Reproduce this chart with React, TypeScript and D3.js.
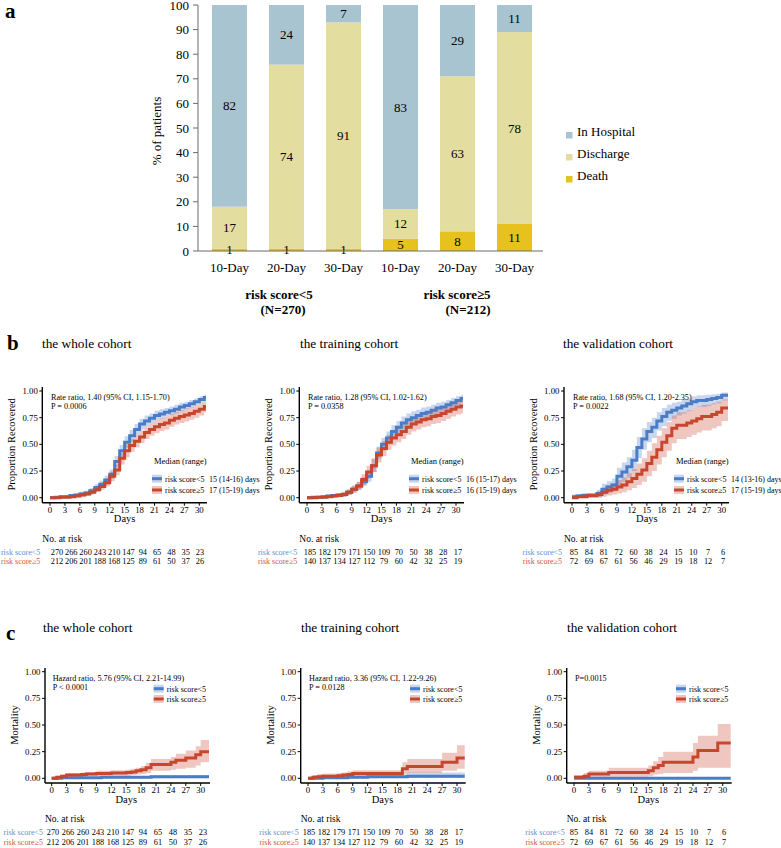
import React from 'react';
import * as d3 from 'd3';

const FONT = 'Liberation Serif, Times New Roman, Times, serif';

// ---------------- Panel a data ----------------
const timeLabels = ['10-Day', '20-Day', '30-Day', '10-Day', '20-Day', '30-Day'];
const deathPct = [1, 1, 1, 5, 8, 11];
const dischargePct = [17, 74, 91, 12, 63, 78];
const hospitalPct = [82, 24, 7, 83, 29, 11];
const outcomeKeys = ['death', 'discharge', 'hospital'];
const legendKeys = ['hospital', 'discharge', 'death'];
const legendLabels = ['In Hospital', 'Discharge', 'Death'];
const groupLabels = ['risk score<5', 'risk score≥5'];
const groupNs = ['(N=270)', '(N=212)'];
const pctTicks = [0, 10, 20, 30, 40, 50, 60, 70, 80, 90, 100];

// ---------------- KM data ----------------
const DAYS = [0, 1, 2, 3, 4, 5, 6, 7, 8, 9, 10, 11, 12, 13, 14, 15, 16, 17, 18, 19, 20, 21, 22, 23, 24, 25, 26, 27, 28, 29, 30, 31];
const dayTicks = [0, 3, 6, 9, 12, 15, 18, 21, 24, 27, 30];
const propTicks = [0, 0.25, 0.5, 0.75, 1];
const riskDays = [0, 3, 6, 9, 12, 15, 18, 21, 24, 27, 30];

// Recovery - whole cohort
const recWholeLowEst = [0, .005, .01, .01, .02, .025, .035, .045, .065, .095, .125, .165, .22, .34, .44, .52, .58, .64, .69, .72, .745, .77, .785, .80, .815, .83, .85, .865, .88, .90, .92, .94];
const recWholeLowLo = [0, 0, 0, 0, .005, .01, .015, .025, .04, .065, .09, .125, .175, .29, .385, .465, .525, .59, .64, .67, .70, .725, .74, .76, .775, .79, .81, .83, .845, .87, .89, .915];
const recWholeLowHi = [0, .01, .02, .02, .035, .04, .055, .065, .09, .125, .16, .205, .265, .39, .495, .575, .635, .69, .74, .77, .79, .815, .83, .84, .855, .87, .89, .90, .915, .93, .95, .965];
const recWholeHighEst = [0, 0, .005, .005, .01, .015, .025, .035, .05, .075, .105, .14, .20, .26, .37, .44, .49, .53, .57, .61, .64, .665, .685, .70, .725, .745, .76, .775, .79, .81, .83, .855];
const recWholeHighLo = [0, 0, 0, 0, 0, .005, .01, .015, .03, .05, .075, .105, .155, .21, .31, .38, .43, .47, .51, .55, .58, .605, .625, .64, .665, .685, .70, .715, .73, .75, .77, .80];
const recWholeHighHi = [0, .005, .01, .015, .02, .03, .04, .055, .075, .10, .14, .18, .245, .31, .42, .50, .55, .59, .63, .67, .70, .725, .745, .76, .785, .80, .82, .835, .85, .87, .89, .905];

// Recovery - training cohort
const recTrainLowEst = [0, .005, .005, .01, .015, .02, .025, .03, .05, .08, .11, .15, .20, .30, .42, .50, .56, .62, .66, .70, .73, .75, .77, .79, .80, .82, .84, .85, .87, .89, .91, .93];
const recTrainLowLo = [0, 0, 0, 0, 0, .005, .01, .01, .025, .05, .075, .11, .15, .24, .36, .44, .50, .56, .60, .64, .67, .69, .71, .735, .745, .765, .785, .80, .82, .84, .865, .89];
const recTrainLowHi = [0, .01, .015, .02, .03, .035, .045, .05, .075, .11, .145, .195, .25, .36, .48, .56, .62, .68, .72, .76, .79, .81, .825, .845, .855, .87, .89, .90, .915, .935, .95, .965];
const recTrainHighEst = [0, 0, .005, .005, .01, .015, .02, .03, .05, .08, .11, .17, .24, .30, .40, .46, .52, .56, .59, .62, .66, .69, .71, .73, .74, .76, .77, .79, .81, .83, .85, .86];
const recTrainHighLo = [0, 0, 0, 0, 0, 0, .005, .01, .025, .045, .075, .12, .18, .24, .33, .39, .45, .49, .52, .55, .59, .62, .64, .66, .67, .69, .70, .72, .74, .76, .78, .79];
const recTrainHighHi = [0, .005, .015, .015, .025, .03, .04, .055, .08, .115, .15, .22, .30, .37, .47, .53, .59, .63, .66, .69, .73, .755, .775, .795, .805, .825, .835, .855, .87, .89, .905, .915];

// Recovery - validation cohort
const recValLowEst = [.01, .015, .02, .02, .02, .04, .08, .10, .12, .20, .24, .29, .35, .47, .55, .62, .66, .72, .76, .80, .82, .84, .86, .88, .90, .91, .91, .92, .93, .94, .96, .96];
const recValLowLo = [0, 0, 0, 0, 0, .005, .03, .045, .06, .11, .15, .19, .25, .37, .45, .52, .56, .63, .67, .72, .74, .77, .79, .81, .84, .85, .85, .86, .875, .885, .91, .91];
const recValLowHi = [.03, .035, .045, .045, .045, .075, .13, .155, .18, .28, .33, .38, .45, .57, .65, .71, .75, .80, .84, .87, .89, .90, .92, .93, .95, .96, .96, .965, .97, .975, .985, .985];
const recValHighEst = [0, .01, .01, .02, .02, .03, .05, .07, .08, .10, .12, .15, .18, .22, .26, .32, .38, .45, .52, .58, .65, .68, .68, .70, .72, .74, .76, .76, .78, .80, .84, .84];
const recValHighLo = [0, 0, 0, 0, 0, 0, .01, .02, .03, .04, .05, .07, .09, .12, .15, .20, .25, .31, .38, .44, .51, .55, .55, .57, .59, .61, .63, .63, .65, .67, .72, .72];
const recValHighHi = [.01, .03, .03, .045, .045, .06, .09, .12, .135, .165, .19, .23, .27, .32, .37, .44, .51, .58, .65, .71, .77, .80, .80, .82, .84, .855, .87, .87, .885, .90, .92, .92];

// Mortality - whole cohort
const morWholeLowT = [0, 2, 10, 20];
const morWholeLowEst = [0, .005, .01, .015];
const morWholeLowLo = [0, 0, 0, 0];
const morWholeLowHi = [0, .015, .02, .03];
const morWholeHighT = [0, 1, 2, 3, 6, 7, 9, 12, 15, 16, 17, 18, 19, 20, 24, 25, 27, 29, 30];
const morWholeHighEst = [0, .01, .02, .03, .035, .04, .045, .05, .055, .06, .07, .08, .10, .13, .15, .17, .19, .22, .25];
const morWholeHighLo = [0, 0, .005, .01, .015, .02, .02, .025, .025, .03, .035, .04, .05, .07, .08, .09, .10, .12, .15];
const morWholeHighHi = [0, .025, .035, .05, .055, .06, .07, .075, .08, .09, .10, .115, .145, .18, .20, .23, .26, .30, .36];

// Mortality - training cohort
const morTrainLowT = [0, 3, 8, 12, 20];
const morTrainLowEst = [0, .005, .01, .015, .02];
const morTrainLowLo = [0, 0, 0, 0, .005];
const morTrainLowHi = [0, .015, .025, .035, .055];
const morTrainHighT = [0, 1, 2, 3, 6, 7, 8, 9, 19, 20, 27, 30];
const morTrainHighEst = [0, .01, .015, .02, .025, .03, .035, .045, .09, .11, .15, .19];
const morTrainHighLo = [0, 0, 0, .005, .01, .01, .015, .02, .04, .05, .07, .09];
const morTrainHighHi = [0, .03, .04, .045, .05, .055, .065, .075, .15, .18, .24, .31];

// Mortality - validation cohort
const morValLowT = [0];
const morValLowEst = [0];
const morValLowLo = [0];
const morValLowHi = [0.005];
const morValHighT = [0, 2, 3, 7, 15, 16, 17, 18, 24, 25, 29];
const morValHighEst = [.01, .02, .04, .055, .07, .10, .12, .15, .20, .26, .33];
const morValHighLo = [0, 0, .01, .015, .02, .035, .04, .05, .07, .10, .10];
const morValHighHi = [.03, .05, .07, .10, .12, .16, .20, .25, .33, .40, .51];

// Numbers at risk
const riskWholeLow = [270, 266, 260, 243, 210, 147, 94, 65, 48, 35, 23];
const riskWholeHigh = [212, 206, 201, 188, 168, 125, 89, 61, 50, 37, 26];
const riskTrainLow = [185, 182, 179, 171, 150, 109, 70, 50, 38, 28, 17];
const riskTrainHigh = [140, 137, 134, 127, 112, 79, 60, 42, 32, 25, 19];
const riskValLow = [85, 84, 81, 72, 60, 38, 24, 15, 10, 7, 6];
const riskValHigh = [72, 69, 67, 61, 56, 46, 29, 19, 18, 12, 7];

const recMedians = [
  ['15 (14-16) days', '17 (15-19) days'],
  ['16 (15-17) days', '16 (15-19) days'],
  ['14 (13-16) days', '17 (15-19) days'],
];
const recAnnots = [
  ['Rate ratio, 1.40 (95% CI, 1.15-1.70)', 'P = 0.0006'],
  ['Rate ratio, 1.28 (95% CI, 1.02-1.62)', 'P = 0.0358'],
  ['Rate ratio, 1.68 (95% CI, 1.20-2.35)', 'P = 0.0022'],
];
const morAnnots = [
  ['Hazard ratio, 5.76 (95% CI, 2.21-14.99)', 'P < 0.0001'],
  ['Hazard ratio, 3.36 (95% CI, 1.22-9.26)', 'P = 0.0128'],
  ['P=0.0015'],
];
const cohortTitles = ['the whole cohort', 'the training cohort', 'the validation cohort'];

// ---------------- styles ----------------
const BLUE = '#4a7cc8';
const RED = '#c9462e';
const BLUE_TXT = '#5b8fd8';
const RED_TXT = '#d2533c';
const BAND_OPACITY = 0.3;
const OUTCOME_COLORS: Record<string, string> = {
  hospital: '#a9c4d1',
  discharge: '#e4dda0',
  death: '#e7c11e',
};

type Curve = { t: number[]; est: number[]; lo: number[]; hi: number[] };
const mk = (t: number[], est: number[], lo: number[], hi: number[]): Curve => ({ t, est, lo, hi });

const recCurves: Curve[][] = [
  [mk(DAYS, recWholeLowEst, recWholeLowLo, recWholeLowHi), mk(DAYS, recWholeHighEst, recWholeHighLo, recWholeHighHi)],
  [mk(DAYS, recTrainLowEst, recTrainLowLo, recTrainLowHi), mk(DAYS, recTrainHighEst, recTrainHighLo, recTrainHighHi)],
  [mk(DAYS, recValLowEst, recValLowLo, recValLowHi), mk(DAYS, recValHighEst, recValHighLo, recValHighHi)],
];
const morCurves: Curve[][] = [
  [mk(morWholeLowT, morWholeLowEst, morWholeLowLo, morWholeLowHi), mk(morWholeHighT, morWholeHighEst, morWholeHighLo, morWholeHighHi)],
  [mk(morTrainLowT, morTrainLowEst, morTrainLowLo, morTrainLowHi), mk(morTrainHighT, morTrainHighEst, morTrainHighLo, morTrainHighHi)],
  [mk(morValLowT, morValLowEst, morValLowLo, morValLowHi), mk(morValHighT, morValHighEst, morValHighLo, morValHighHi)],
];
const risks = [
  [riskWholeLow, riskWholeHigh],
  [riskTrainLow, riskTrainHigh],
  [riskValLow, riskValHigh],
];

// layout
const bLayout = [
  { axisX: 42.3, day0X: 50, day30X: 199.3, axisEndX: 207, titleX: 42, riskX0: 57, riskX1: 200 },
  { axisX: 299.3, day0X: 307, day30X: 456, axisEndX: 464, titleX: 300, riskX0: 310, riskX1: 458 },
  { axisX: 564, day0X: 572, day30X: 721.7, axisEndX: 729, titleX: 563, riskX0: 574, riskX1: 723 },
];
const cLayout = [
  { axisX: 45, day0X: 51.7, day30X: 200.7, axisEndX: 210, titleX: 43, riskX0: 53, riskX1: 203 },
  { axisX: 300.7, day0X: 308, day30X: 457, axisEndX: 465.7, titleX: 301, riskX0: 309, riskX1: 459 },
  { axisX: 566.7, day0X: 574, day30X: 722.7, axisEndX: 731.7, titleX: 567, riskX0: 574, riskX1: 724 },
];
const bV = { yTop: 387, axisY: 502.7, y0: 497.7, y1: 391, titleY: 348 };
const cV = { yTop: 668, axisY: 783, y0: 778.3, y1: 671.7, titleY: 632 };

const fs = (size: number, extra: any = {}) => ({ fontFamily: FONT, fontSize: size + 'px', ...extra });

function BarPanel() {
  const x = d3.scaleBand<number>().domain(d3.range(timeLabels.length)).range([198, 546]).paddingInner(0.386).paddingOuter(0.245);
  const y = d3.scaleLinear().domain([0, 1]).range([251, 5]);
  const yPct = d3.scaleLinear().domain([0, 100]).range([251, 5]);
  const rows = timeLabels.map((_, i) => ({ death: deathPct[i], discharge: dischargePct[i], hospital: hospitalPct[i] }));
  const stack = d3.stack<any>().keys(outcomeKeys).offset(d3.stackOffsetExpand)(rows);
  return (
    <g>
      <text x={5} y={18} style={fs(21, { fontWeight: 'bold' })}>a</text>
      {stack.map((layer) => (
        <g key={layer.key}>
          {layer.map((seg, i) => (
            <rect key={i} x={x(i)} y={y(seg[1])} width={x.bandwidth()} height={y(seg[0]) - y(seg[1])} fill={OUTCOME_COLORS[layer.key]} />
          ))}
        </g>
      ))}
      {stack.map((layer) => (
        <g key={'l' + layer.key}>
          {layer.map((seg, i) => (
            <text key={i} x={(x(i) as number) + x.bandwidth() / 2} y={y((seg[0] + seg[1]) / 2) + 4.5} style={fs(13)} textAnchor="middle">
              {(rows[i] as any)[layer.key]}
            </text>
          ))}
        </g>
      ))}
      <line x1={198} x2={198} y1={5} y2={251} stroke="#6b6b6b" strokeWidth={1} />
      <line x1={198} x2={543} y1={251} y2={251} stroke="#6b6b6b" strokeWidth={1} />
      {pctTicks.map((t) => (
        <g key={t}>
          <line x1={193} x2={198} y1={yPct(t)} y2={yPct(t)} stroke="#6b6b6b" />
          <text x={189} y={yPct(t) + 4.5} style={fs(13)} textAnchor="end">{t}</text>
        </g>
      ))}
      {timeLabels.map((l, i) => (
        <text key={i} x={(x(i) as number) + x.bandwidth() / 2} y={272} style={fs(13)} textAnchor="middle">{l}</text>
      ))}
      <text transform="translate(161,131) rotate(-90)" style={fs(13)} textAnchor="middle">% of patients</text>
      <text x={279} y={299} style={fs(13, { fontWeight: 'bold' })} textAnchor="middle">{groupLabels[0]}</text>
      <text x={283} y={314} style={fs(13, { fontWeight: 'bold' })} textAnchor="middle">{groupNs[0]}</text>
      <text x={457} y={299} style={fs(13, { fontWeight: 'bold' })} textAnchor="middle">{groupLabels[1]}</text>
      <text x={468} y={314} style={fs(13, { fontWeight: 'bold' })} textAnchor="middle">{groupNs[1]}</text>
      {legendKeys.map((k, i) => (
        <g key={k}>
          <rect x={566} y={132 + i * 22} width={6.5} height={6.5} fill={OUTCOME_COLORS[k]} />
          <text x={577} y={136 + i * 22} style={fs(13)}>{legendLabels[i]}</text>
        </g>
      ))}
    </g>
  );
}

function KMPlot(props: {
  L: any; V: any; curves: Curve[]; title: string; yLabel: string; annot: string[];
  kind: 'rec' | 'mort'; medians?: string[]; risk: number[][];
}) {
  const { L, V, curves, title, yLabel, annot, kind, medians, risk } = props;
  const x = d3.scaleLinear().domain([0, 30]).range([L.day0X, L.day30X]);
  const y = d3.scaleLinear().domain([0, 1]).range([V.y0, V.y1]);
  const endDay = x.invert(L.axisEndX - 1);
  const colors = [BLUE, RED];
  const txtColors = [BLUE_TXT, RED_TXT];
  const pts = (c: Curve) => {
    const p = c.t.map((t, i) => ({ t, est: c.est[i], lo: c.lo[i], hi: c.hi[i] }));
    const last = p[p.length - 1];
    p.push({ ...last, t: endDay });
    return p;
  };
  const line = d3.line<any>().x((d) => x(d.t)).y((d) => y(d.est)).curve(d3.curveStepAfter);
  const area = d3.area<any>().x((d) => x(d.t)).y0((d) => y(d.lo)).y1((d) => y(d.hi)).curve(d3.curveStepAfter);
  const riskX = d3.scaleLinear().domain([0, 30]).range([L.riskX0, L.riskX1]);
  const keyX = L.day0X + 102;
  const keyYs = kind === 'rec' ? [V.y1 + 87.7, V.y1 + 99] : [V.y1 + 17, V.y1 + 27.3];
  const labels = ['risk score<5', 'risk score≥5'];
  return (
    <g>
      <text x={L.titleX} y={V.titleY} style={fs(13.3)}>{title}</text>
      {curves.map((c, i) => (
        <path key={'a' + i} d={area(pts(c)) || ''} fill={colors[i]} fillOpacity={BAND_OPACITY} stroke="none" />
      ))}
      {curves.map((c, i) => (
        <path key={'l' + i} d={line(pts(c)) || ''} fill="none" stroke={colors[i]} strokeWidth={3} />
      ))}
      <line x1={L.axisX} x2={L.axisX} y1={V.yTop} y2={V.axisY} stroke="#000" strokeWidth={1.4} />
      <line x1={L.axisX} x2={L.axisEndX} y1={V.axisY} y2={V.axisY} stroke="#000" strokeWidth={1.4} />
      {propTicks.map((t) => (
        <g key={t}>
          <line x1={L.axisX - 3} x2={L.axisX} y1={y(t)} y2={y(t)} stroke="#000" strokeWidth={1} />
          <text x={L.axisX - 4.5} y={y(t) + 3} style={fs(8.8)} textAnchor="end">{t.toFixed(2)}</text>
        </g>
      ))}
      {dayTicks.map((t) => (
        <g key={t}>
          <line x1={x(t)} x2={x(t)} y1={V.axisY} y2={V.axisY + 3} stroke="#000" strokeWidth={1} />
          <text x={x(t)} y={V.axisY + 10} style={fs(8.8)} textAnchor="middle">{t}</text>
        </g>
      ))}
      <text x={x(15)} y={V.axisY + 19.5} style={fs(10.5)} textAnchor="middle">Days</text>
      <text transform={`translate(${L.axisX - 27},${(V.y0 + V.y1) / 2}) rotate(-90)`} style={fs(10.5)} textAnchor="middle">{yLabel}</text>
      {annot.map((a, i) => (
        <text key={i} x={L.day0X + 1} y={V.yTop + 12.5 + i * 9.5} style={fs(8.2)}>{a}</text>
      ))}
      {kind === 'rec' && (
        <text x={keyX + 2} y={V.y1 + 73} style={fs(8.5)}>Median (range)</text>
      )}
      {labels.map((lab, i) => (
        <g key={lab}>
          <rect x={keyX} y={keyYs[i] - 4} width={10} height={8} fill={colors[i]} fillOpacity={BAND_OPACITY} />
          <line x1={keyX} x2={keyX + 10} y1={keyYs[i]} y2={keyYs[i]} stroke={colors[i]} strokeWidth={3} />
          <text x={keyX + 13} y={keyYs[i] + 3} style={fs(8)}>{lab}</text>
          {medians && <text x={keyX + 57} y={keyYs[i] + 3} style={fs(8)}>{medians[i]}</text>}
        </g>
      ))}
      <text x={L.axisX} y={V.axisY + 39.3} style={fs(9.5)}>No. at risk</text>
      {risk.map((row, r) => (
        <g key={r}>
          <text x={L.axisX - 2} y={V.axisY + 52 + r * 9.6} style={fs(8, { fill: txtColors[r] })} textAnchor="end">{labels[r]}</text>
          {row.map((n, j) => (
            <text key={j} x={riskX(riskDays[j])} y={V.axisY + 52 + r * 9.6} style={fs(8.3)} textAnchor="middle">{n}</text>
          ))}
        </g>
      ))}
    </g>
  );
}

export default function App() {
  return (
    <svg width={781} height={848} style={{ position: 'absolute', left: 0, top: 0, background: '#fff' }} xmlns="http://www.w3.org/2000/svg">
      <rect x={0} y={0} width={781} height={848} fill="#fff" />
      <BarPanel />
      <text x={7} y={350} style={fs(21, { fontWeight: 'bold' })}>b</text>
      <text x={6} y={640} style={fs(21, { fontWeight: 'bold' })}>c</text>
      {bLayout.map((L, i) => (
        <KMPlot key={'b' + i} L={L} V={bV} curves={recCurves[i]} title={cohortTitles[i]} yLabel="Proportion Recovered"
          annot={recAnnots[i]} kind="rec" medians={recMedians[i]} risk={risks[i]} />
      ))}
      {cLayout.map((L, i) => (
        <KMPlot key={'c' + i} L={L} V={cV} curves={morCurves[i]} title={cohortTitles[i]} yLabel="Mortality"
          annot={morAnnots[i]} kind="mort" risk={risks[i]} />
      ))}
    </svg>
  );
}
